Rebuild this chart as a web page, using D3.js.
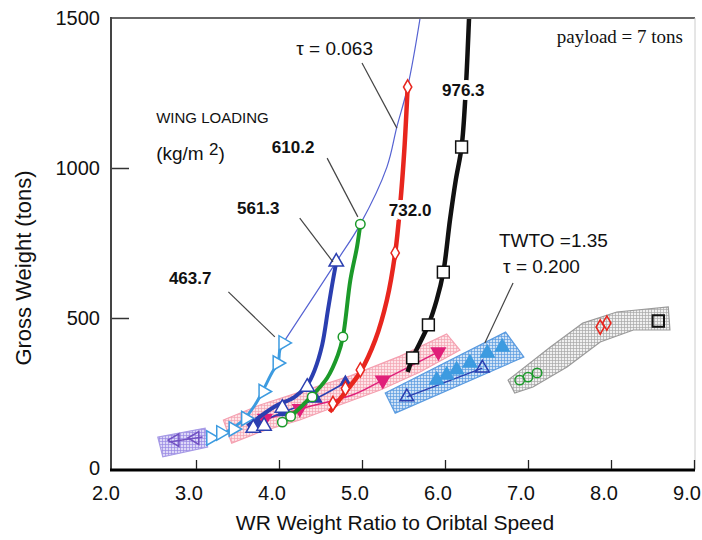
<!DOCTYPE html>
<html>
<head>
<meta charset="utf-8">
<script src="https://cdn.jsdelivr.net/npm/d3@7"></script>
<style>
  body { margin: 0; background: #fff; }
  text { font-family: 'Liberation Sans', Arial, sans-serif; fill: #111; }
</style>
</head>
<body>
<div id="chart"></div>
<script>
// axis ticks
const xTicks = [2, 3, 4, 5, 6, 7, 8, 9];
const xTickLabels = ['2.0', '3.0', '4.0', '5.0', '6.0', '7.0', '8.0', '9.0'];
const yTicks = [0, 500, 1000, 1500];

// constant tau line (tau = 0.063)
const tauLine = [[4.05, 417], [4.69, 687], [4.98, 813], [5.3, 1003], [5.42, 1137], [5.55, 1270], [5.7, 1500], [5.74, 1580]];

// wing loading curves [WR, gross weight]
const wl463 = [[3.13, 83], [3.35, 117], [3.57, 160], [3.71, 210], [3.81, 260], [3.92, 320], [3.99, 350], [4.01, 393], [4.05, 417]];
const wl463Pts = [[3.18, 100], [3.3, 117], [3.45, 130], [3.6, 165], [3.81, 255], [3.98, 350], [4.05, 417]];
const wl561 = [[3.62, 140], [3.95, 205], [4.19, 237], [4.34, 277], [4.43, 327], [4.52, 410], [4.59, 527], [4.64, 610], [4.69, 687]];
const wl561Pts = [[3.69, 133], [3.82, 140], [4.04, 200], [4.34, 270], [4.69, 687]];
const wl610 = [[4.05, 153], [4.16, 177], [4.37, 233], [4.58, 300], [4.71, 377], [4.77, 437], [4.86, 627], [4.94, 737], [4.98, 813]];
const wl610Pts = [[4.04, 153], [4.14, 172], [4.4, 237], [4.77, 437], [4.98, 813]];
const wl732 = [[4.61, 187], [4.8, 253], [4.98, 320], [5.16, 427], [5.3, 560], [5.4, 717], [5.46, 877], [5.51, 1060], [5.55, 1270]];
const wl732Pts = [[4.65, 215], [4.8, 265], [4.98, 327], [5.4, 717], [5.55, 1270]];
const wl976 = [[5.55, 320], [5.61, 367], [5.8, 477], [5.9, 560], [5.98, 653], [6.06, 827], [6.13, 960], [6.2, 1070], [6.25, 1260], [6.29, 1500], [6.3, 1560]];
const wl976Pts = [[5.61, 367], [5.8, 477], [5.98, 653], [6.2, 1070]];

// TWTO = 1.35 groups
const magentaLine = [[3.7, 150], [4.3, 200], [4.9, 245], [5.25, 293], [5.92, 387]];
const magentaPts = [[3.83, 165], [4.25, 198], [5.25, 293], [5.92, 387]];
const navyBandLine = [[3.65, 140], [4.0, 180], [4.4, 225], [4.8, 285]];
const navyBandPts = [[3.75, 150], [4.05, 185], [4.45, 230], [4.8, 287]];
const blueLine = [[5.54, 237], [6.45, 333]];
const blueFilledPts = [[5.9, 293], [6.02, 310], [6.14, 327], [6.3, 350], [6.51, 383], [6.69, 403]];
const purpleLine = [[2.67, 87], [3.08, 103]];
const purplePts = [[2.75, 93], [2.99, 100]];
const grayGreenPts = [[6.9, 293], [7.0, 303], [7.11, 317]];
const grayRedPts = [[7.87, 470], [7.95, 483]];
const grayBlackPts = [[8.57, 490]];

// shaded regions
const pinkBand = [[3.33, 160], [3.77, 210], [4.25, 253], [4.86, 307], [5.46, 373], [6.02, 447],
  [6.18, 393], [5.7, 320], [5.22, 260], [4.73, 210], [4.25, 160], [3.77, 120], [3.43, 83]];
const blueBand = [[5.28, 250], [6.73, 453], [6.95, 370], [5.4, 183]];
const purpleBand = [[2.54, 103], [3.11, 133], [3.14, 70], [2.6, 37]];
const grayBand = [[6.76, 293], [7.27, 403], [7.66, 483], [8.07, 520], [8.69, 537],
  [8.71, 460], [8.27, 460], [7.87, 420], [7.47, 337], [7.06, 270], [6.84, 250]];

const width = 702, height = 540;
const x = d3.scaleLinear().domain([2, 9]).range([113, 694]);
const y = d3.scaleLinear().domain([0, 1500]).range([468, 18]);

const svg = d3.select('#chart').append('svg')
  .attr('width', width).attr('height', height);
svg.append('rect').attr('width', width).attr('height', height).attr('fill', '#fff');

const defs = svg.append('defs');
defs.append('clipPath').attr('id', 'plot')
  .append('rect').attr('x', 111).attr('y', 18).attr('width', 584).attr('height', 452);

function hatch(id, bg, line) {
  const p = defs.append('pattern').attr('id', id)
    .attr('patternUnits', 'userSpaceOnUse').attr('width', 3).attr('height', 3);
  p.append('rect').attr('width', 3).attr('height', 3).attr('fill', bg);
  p.append('path').attr('d', 'M0,0.5H3M0.5,0V3')
    .attr('stroke', line).attr('stroke-width', 0.7);
}
hatch('hPink', '#fde3e7', '#f4a3b2');
hatch('hBlue', '#cfe2f6', '#5a9be0');
hatch('hGray', '#f0f0f0', '#a9a9a9');
hatch('hPurple', '#ddd8f7', '#9888e2');

const plot = svg.append('g').attr('clip-path', 'url(#plot)');

// bands
const bandLine = d3.line().x(d => x(d[0])).y(d => y(d[1]));
function band(pts, fill, stroke) {
  plot.append('path').attr('d', bandLine(pts) + 'Z')
    .attr('fill', fill).attr('stroke', stroke).attr('stroke-width', 1.2);
}
band(purpleBand, 'url(#hPurple)', '#a79be6');
band(pinkBand, 'url(#hPink)', '#f5a0b0');
band(blueBand, 'url(#hBlue)', '#5a9be0');
band(grayBand, 'url(#hGray)', '#9a9a9a');

const curve = d3.line().x(d => x(d[0])).y(d => y(d[1])).curve(d3.curveCatmullRom.alpha(0.5));
function drawLine(pts, color, w) {
  plot.append('path').attr('d', curve(pts))
    .attr('fill', 'none').attr('stroke', color).attr('stroke-width', w)
    .attr('stroke-linejoin', 'round');
}
function markers(pts, type, size, rot, stroke, fill, sw) {
  plot.selectAll(null).data(pts).join('path')
    .attr('d', d3.symbol(type, size))
    .attr('transform', d => `translate(${x(d[0])},${y(d[1])}) rotate(${rot})`)
    .attr('fill', fill).attr('stroke', stroke).attr('stroke-width', sw || 1.5);
}

// band contents
drawLine(purpleLine, '#7150c2', 1.5);
markers(purplePts, d3.symbolTriangle, 70, -90, '#7150c2', 'none');
drawLine(magentaLine, '#e0207a', 1.5);
drawLine(navyBandLine, '#2b3fb0', 1.5);
markers(navyBandPts, d3.symbolTriangle, 45, 0, '#2b3fb0', '#2b3fb0');
markers(magentaPts, d3.symbolTriangle, 80, 180, '#e0207a', '#e0207a');
drawLine(blueLine, '#2b3fb0', 1.5);
markers(blueLine, d3.symbolTriangle, 80, 0, '#2b3fb0', 'none');
markers(blueFilledPts, d3.symbolTriangle, 80, 0, '#3d9be0', '#3d9be0');
markers(grayGreenPts, d3.symbolCircle, 70, 0, '#1c9a2a', 'none');
markers(grayRedPts, d3.symbolDiamond, 60, 0, '#e8261e', 'none');
markers(grayBlackPts, d3.symbolSquare, 130, 0, '#111', 'none', 2);

// wing loading curves
drawLine(tauLine, '#5562d2', 1.2);
drawLine(wl463, '#3d9be0', 3);
drawLine(wl561, '#2b3fb0', 4);
drawLine(wl610, '#1c9a2a', 4);
drawLine(wl732, '#e8261e', 4.5);
drawLine(wl976, '#111', 4.5);
markers(wl463Pts, d3.symbolTriangle, 90, 90, '#3d9be0', '#fff');
markers(wl561Pts, d3.symbolTriangle, 90, 0, '#2b3fb0', '#fff');
markers(wl610Pts, d3.symbolCircle, 70, 0, '#1c9a2a', '#fff');
markers(wl732Pts, d3.symbolDiamond, 60, 0, '#e8261e', '#fff');
markers(wl976Pts, d3.symbolSquare, 140, 0, '#111', '#fff');

// frame
svg.append('line').attr('x1', 111).attr('x2', 695).attr('y1', 18).attr('y2', 18)
  .attr('stroke', '#666').attr('stroke-width', 2);
svg.append('line').attr('x1', 695).attr('x2', 695).attr('y1', 18).attr('y2', 470)
  .attr('stroke', '#ccc').attr('stroke-width', 1);
svg.append('line').attr('x1', 111).attr('x2', 111).attr('y1', 17).attr('y2', 471)
  .attr('stroke', '#444').attr('stroke-width', 2);
svg.append('line').attr('x1', 110).attr('x2', 695).attr('y1', 470).attr('y2', 470)
  .attr('stroke', '#000').attr('stroke-width', 3);

// x axis: inward ticks, labels set a little left like the source
const xAxisG = svg.append('g').attr('transform', 'translate(0,469)');
xAxisG.call(d3.axisBottom(x).tickValues(d3.range(2.2, 9.01, 0.2)).tickSize(-5).tickFormat(''));
xAxisG.call(d3.axisBottom(x).tickValues(xTicks.slice(1)).tickSize(-9).tickFormat(''));
xAxisG.selectAll('.domain').remove();
xAxisG.selectAll('line').attr('stroke', '#222').attr('stroke-width', 1.3);
svg.selectAll('text.xtick').data(xTicks).join('text')
  .attr('class', 'xtick')
  .attr('x', d => x(d) - 7).attr('y', 500)
  .attr('text-anchor', 'middle').style('font-size', '20px')
  .text((d, i) => xTickLabels[i]);

// y axis
const yAxisG = svg.append('g').attr('transform', 'translate(112,0)');
yAxisG.call(d3.axisRight(y).tickValues(d3.range(100, 1500, 100).filter(v => v % 500)).tickSize(2).tickFormat(''));
yAxisG.call(d3.axisRight(y).tickValues([500, 1000]).tickSize(17).tickFormat(''));
yAxisG.selectAll('.domain').remove();
yAxisG.selectAll('line').attr('stroke', '#333').attr('stroke-width', 1.5);
svg.selectAll('text.ytick').data(yTicks).join('text')
  .attr('class', 'ytick')
  .attr('x', 100).attr('y', d => y(d) + 7)
  .attr('text-anchor', 'end').style('font-size', '20px')
  .text(d => d);

// axis titles
svg.append('text').attr('x', 395).attr('y', 530).attr('text-anchor', 'middle')
  .style('font-size', '21px').text('WR Weight Ratio to Oribtal Speed');
svg.append('text').attr('transform', 'translate(31,268) rotate(-90)')
  .attr('text-anchor', 'middle').style('font-size', '22px').text('Gross Weight (tons)');

// annotations
function leader(a, b) {
  svg.append('line').attr('x1', x(a[0])).attr('y1', y(a[1])).attr('x2', x(b[0])).attr('y2', y(b[1]))
    .attr('stroke', '#444').attr('stroke-width', 1.2);
}
leader([5.0, 1350], [5.42, 1133]);
leader([4.58, 1033], [4.95, 837]);
leader([4.25, 833], [4.65, 687]);
leader([3.39, 587], [3.95, 437]);
leader([6.82, 617], [6.48, 417]);

function label(txt, px, py, size, weight, anchor, halo) {
  const t = svg.append('text').attr('x', x(px)).attr('y', y(py))
    .attr('text-anchor', anchor || 'middle').attr('dominant-baseline', 'central')
    .style('font-size', size + 'px').style('font-weight', weight || 'normal').text(txt);
  if (halo) t.attr('stroke', '#fff').attr('stroke-width', 8).attr('paint-order', 'stroke');
  return t;
}
label('τ = 0.063', 4.67, 1400, 19);
label('976.3', 6.22, 1260, 17, 'bold', 'middle', true);
label('732.0', 5.58, 860, 17, 'bold', 'middle', true);
label('610.2', 4.17, 1070, 17, 'bold');
label('561.3', 3.75, 865, 17, 'bold');
label('463.7', 2.93, 633, 17, 'bold');
label('WING LOADING', 2.52, 1167, 15, 'normal', 'start');
const kg = label('(kg/m ', 2.52, 1050, 19, 'normal', 'start');
kg.append('tspan').attr('dy', -4).style('font-size', '17px').text(' 2');
kg.append('tspan').attr('dy', 4).text(')');
label('TWTO =1.35', 6.65, 757, 19, 'normal', 'start');
label('τ = 0.200', 6.7, 673, 19, 'normal', 'start');
svg.append('text').attr('x', 683).attr('y', 43).attr('text-anchor', 'end')
  .style('font-family', "'Liberation Serif', 'Times New Roman', serif")
  .style('font-size', '19px').text('payload = 7 tons');
</script>
</body>
</html>
